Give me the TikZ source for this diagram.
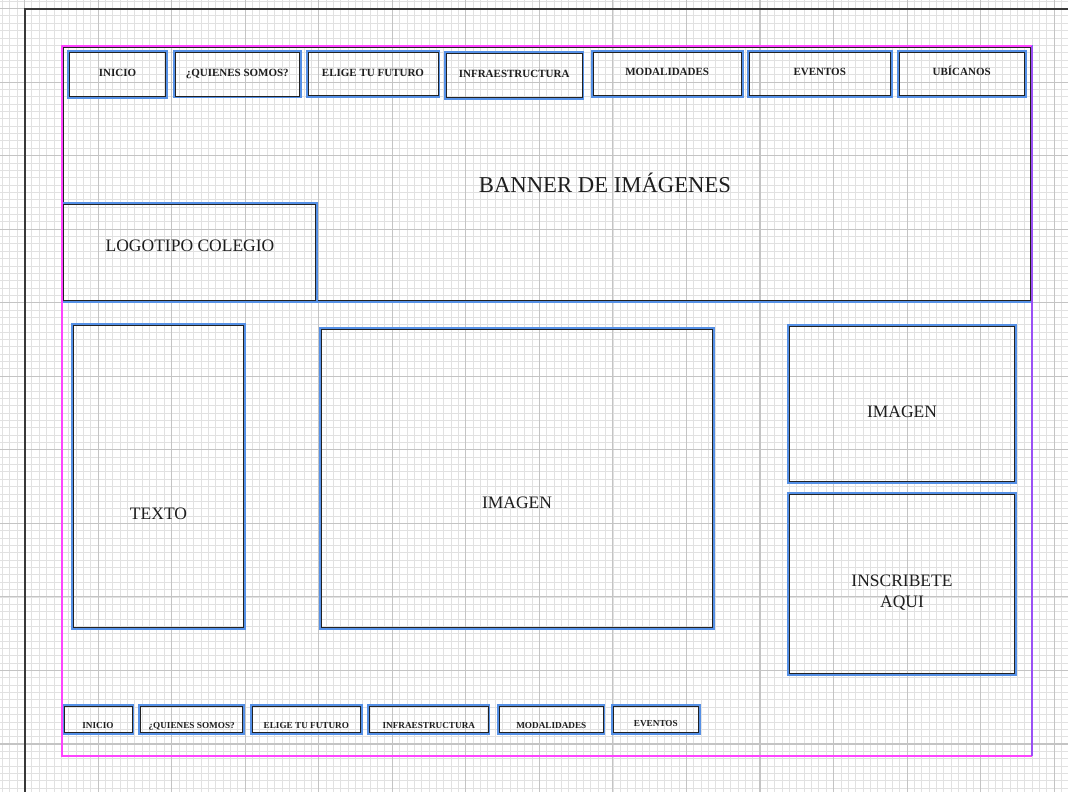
\documentclass[tikz,border=0pt]{standalone}
\usepackage{fontspec}
\setmainfont{Liberation Serif}
\usetikzlibrary{fit}

\definecolor{gridminor}{HTML}{E1E1E1}
\definecolor{gridmajor}{HTML}{C4C4C4}
\definecolor{frameblue}{HTML}{5590E6}
\definecolor{edgedark}{HTML}{222222}
\definecolor{pagepink}{HTML}{FF44FF}
\definecolor{pageviolet}{HTML}{9B50F5}
\definecolor{inkdark}{HTML}{1E1E1E}

% a wireframe box: blue outline with a dark inner line
\newcommand\wframe[5]{%
  \node[wbox, fit={(#2,#3) (#4,#5)}] (#1) {};
  \draw[winner] ([shift={(1.3,1.3)}]#1.north west) rectangle ([shift={(-1.3,-1.3)}]#1.south east);
}

\begin{document}
\begin{tikzpicture}[x=1pt,y=-1pt,
  wbox/.style={draw=frameblue, line width=2.2pt, inner sep=0pt, outer sep=0pt},
  winner/.style={draw=edgedark, line width=0.9pt},
  minorline/.style={draw=gridminor, line width=0.8pt},
  majorline/.style={draw=gridmajor, line width=1.1pt},
  sheetedge/.style={draw=edgedark!90, line width=1.4pt},
  navtxt/.style={font=\fontsize{11}{13}\selectfont\bfseries, text=inkdark, inner sep=0pt, anchor=base},
  foottxt/.style={font=\fontsize{9.2}{11}\selectfont\bfseries, text=inkdark, inner sep=0pt, anchor=base},
  bodytxt/.style={font=\fontsize{17.5}{21}\selectfont, text=inkdark, inner sep=0pt, anchor=base},
  bannertxt/.style={font=\fontsize{22.7}{27}\selectfont, text=inkdark, inner sep=0pt, anchor=base}]

\useasboundingbox (0,0) rectangle (1068,792);
\fill[white] (0,0) rectangle (1068,792);

% squared paper
\foreach \i in {-4,...,142} {
  \draw[minorline] ({24.5+\i*7.355},0) -- ({24.5+\i*7.355},792);
}
\foreach \i in {-2,...,107} {
  \draw[minorline] (0,{8.5+\i*7.355}) -- (1068,{8.5+\i*7.355});
}
\foreach \i in {0,...,14} {
  \draw[majorline] ({24.5+\i*73.55},0) -- ({24.5+\i*73.55},792);
}
\foreach \i in {0,...,10} {
  \draw[majorline] (0,{8.5+\i*73.55}) -- (1068,{8.5+\i*73.55});
}

% sheet edges
\draw[sheetedge] (25,792) -- (25,9) -- (1068,9);

% header banner and logo
\wframe{banner}{62}{46}{1032}{302}
\wframe{logo}{62}{203.3}{316.7}{302}
\node[bannertxt] (tbanner) at (605,192) {BANNER DE IMÁGENES};
\node[bodytxt] (tlogo) at (190,251.5) {LOGOTIPO COLEGIO};

% main menu
\foreach \n/\a/\b/\c/\d/\base/\t in {
  m1/68/51.5/167/97.5/76.5/INICIO,
  m2/174/51.5/300.5/97.3/76.5/¿QUIENES SOMOS?,
  m3/306.7/51.5/439.3/97/76.5/ELIGE TU FUTURO,
  m4/445/52.5/583.3/98.5/77.5/INFRAESTRUCTURA,
  m5/591.7/50.7/742.7/96.7/76/MODALIDADES,
  m6/747.7/50.7/891.7/97/76/EVENTOS,
  m7/897.7/50.7/1025.7/97/76/UBÍCANOS} {
  \wframe{\n}{\a}{\b}{\c}{\d}
  \pgfmathsetmacro\cx{(\a+\c)/2}
  \node[navtxt] (t\n) at (\cx,\base) {\t};
}

% content blocks
\wframe{texto}{72}{324}{245}{629}
\wframe{imgmain}{320}{328}{714}{629}
\wframe{imgside}{787.7}{325}{1016}{482.7}
\wframe{signup}{787.7}{493.3}{1016}{675}
\node[bodytxt] (ttexto) at (158.5,519.5) {TEXTO};
\node[bodytxt] (timgmain) at (517,508.5) {IMAGEN};
\node[bodytxt] (timgside) at (902,417) {IMAGEN};
\node[bodytxt] (tsignup1) at (902,586) {INSCRIBETE};
\node[bodytxt] (tsignup2) at (902,607) {AQUI};

% footer menu
\foreach \n/\a/\c/\base/\t in {
  f1/62.7/133.3/728/INICIO,
  f2/139.3/244/728.5/¿QUIENES SOMOS?,
  f3/251/361.7/728/ELIGE TU FUTURO,
  f4/368.3/489.3/728/INFRAESTRUCTURA,
  f5/498.3/604.3/728/MODALIDADES,
  f6/611.7/700/726.7/EVENTOS} {
  \wframe{\n}{\a}{705}{\c}{734}
  \pgfmathsetmacro\cx{(\a+\c)/2}
  \node[foottxt] (t\n) at (\cx,\base) {\t};
}

% page margin
\draw[pagepink, line width=1.5pt] (1032,46) -- (62,46) -- (62,756) -- (1032,756);
\draw[pageviolet, line width=1.5pt] (1032,46) -- (1032,756);

\end{tikzpicture}
\end{document}
